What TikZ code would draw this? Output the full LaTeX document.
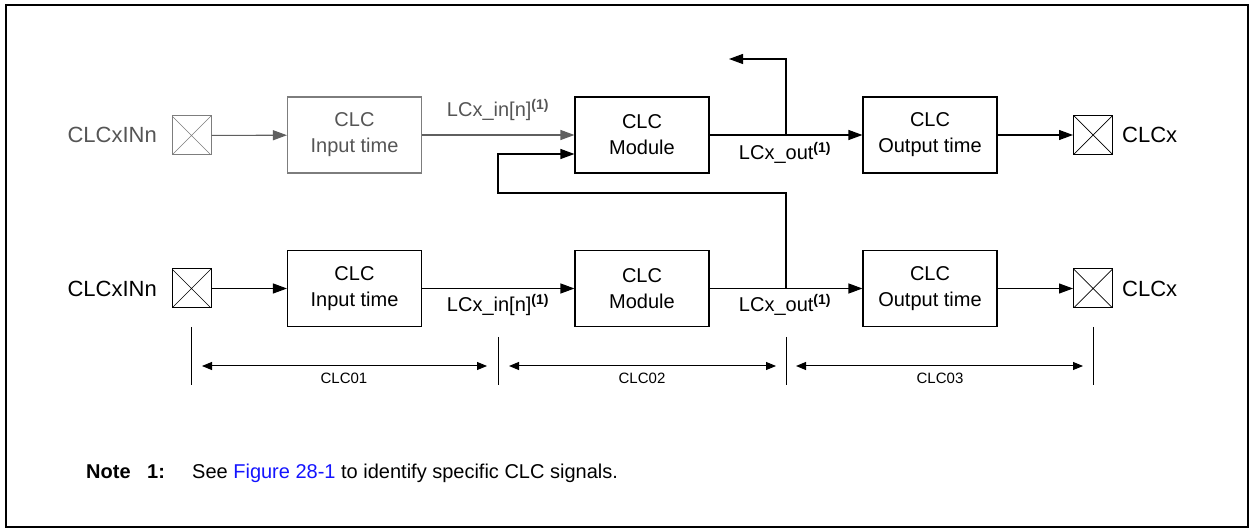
\documentclass[tikz,border=0pt]{standalone}
\usepackage{fontspec}
\setmainfont{Liberation Sans}
\usetikzlibrary{arrows.meta}
\definecolor{gtext}{RGB}{85,85,85}
\definecolor{gline}{RGB}{125,125,125}
\definecolor{garr}{RGB}{95,95,95}
\definecolor{linkblue}{RGB}{20,20,255}
\begin{document}
\begin{tikzpicture}[x=1pt,y=-1pt,
  blockbox/.style={draw=black, line width=1.1pt, minimum width=134pt, minimum height=76pt,
    inner sep=0pt, align=center, font=\fontsize{20}{26}\selectfont},
  padbox/.style={draw=black, line width=1pt, minimum width=39pt, minimum height=39pt, inner sep=0pt,
    path picture={\draw[line width=0.7pt] (path picture bounding box.north west) -- (path picture bounding box.south east)
      (path picture bounding box.north east) -- (path picture bounding box.south west);}},
  sig/.style={line width=1.1pt, -{Triangle[length=14pt,width=10pt]}},
  lab/.style={inner sep=0pt, font=\fontsize{20}{24}\selectfont},
  pinlab/.style={inner sep=0pt, font=\fontsize{22}{26}\selectfont},
  ticks/.style={line width=1pt},
  dimarr/.style={line width=1pt, {Triangle[length=10pt,width=8pt]}-{Triangle[length=10pt,width=8pt]}},
  dimlab/.style={inner sep=0pt, font=\fontsize{15}{18}\selectfont},
  notefont/.style={inner sep=0pt, font=\fontsize{20}{24}\selectfont}
]
\useasboundingbox (0,0) rectangle (1251,529);
\draw[line width=2.6pt] (6,5) rectangle (1248,527);

% ---- top row ----
\node[pinlab, text=gtext, anchor=base east] (inlab1) at (157,143) {CLCxINn};
\node[padbox, draw=gline, path picture={\draw[gline, line width=0.7pt] (path picture bounding box.north west) -- (path picture bounding box.south east)
      (path picture bounding box.north east) -- (path picture bounding box.south west);}] (padin1) at (191.5,135.5) {};
\node[blockbox, draw=gline, text=gtext] (in1) at (354.5,135) {CLC\\Input time};
\node[blockbox] (mod1) at (642,135) {CLC\\Module};
\node[blockbox] (out1) at (930,135) {CLC\\Output time};
\node[padbox] (padout1) at (1093,135) {};
\node[pinlab, anchor=base west] (outlab1) at (1122,143) {CLCx};

\draw[sig, draw=garr, fill=garr] (padin1) -- (in1);
\draw[sig, draw=garr, fill=garr] (in1) -- (mod1);
\node[lab, text=gtext, anchor=base] (sin1) at (498,117) {LCx\_in[n]\textsuperscript{\bfseries(1)}};
\draw[sig] (mod1) -- (out1);
\node[lab, anchor=base] (sout1) at (785,160) {LCx\_out\textsuperscript{\bfseries(1)}};
\draw[sig] (out1) -- (padout1);

\coordinate (br1) at (786,135);
\coordinate (upl) at (729,59);
\draw[sig] (br1) |- (upl);

% ---- bottom row ----
\node[pinlab, anchor=base east] (inlab2) at (157,297) {CLCxINn};
\node[padbox] (padin2) at (191.5,288.5) {};
\node[blockbox] (in2) at (354.5,288.5) {CLC\\Input time};
\node[blockbox] (mod2) at (642,288.5) {CLC\\Module};
\node[blockbox] (out2) at (930,288.5) {CLC\\Output time};
\node[padbox] (padout2) at (1093,288.5) {};
\node[pinlab, anchor=base west] (outlab2) at (1122,297) {CLCx};

\draw[sig] (padin2) -- (in2);
\draw[sig] (in2) -- (mod2);
\node[lab, anchor=base] (sin2) at (498,312) {LCx\_in[n]\textsuperscript{\bfseries(1)}};
\draw[sig] (mod2) -- (out2);
\node[lab, anchor=base] (sout2) at (785,312) {LCx\_out\textsuperscript{\bfseries(1)}};
\draw[sig] (out2) -- (padout2);

% feedback
\coordinate (br2) at (786,288.5);
\coordinate (fb) at (498,193);
\draw[sig] (br2) |- (fb) |- ([yshift=-19pt]mod1.west);

% ---- dimension lines ----
\draw[ticks] (191,327) -- (191,385);
\draw[ticks] (498,337) -- (498,385);
\draw[ticks] (786,337) -- (786,385);
\draw[ticks] (1093,327) -- (1093,385);
\coordinate (d1a) at (202,366); \coordinate (d1b) at (487,366);
\coordinate (d2a) at (509,366); \coordinate (d2b) at (776,366);
\coordinate (d3a) at (796,366); \coordinate (d3b) at (1083,366);
\draw[dimarr] (d1a) -- (d1b);
\draw[dimarr] (d2a) -- (d2b);
\draw[dimarr] (d3a) -- (d3b);
\node[dimlab] (c1) at (344,378) {CLC01};
\node[dimlab] (c2) at (642,378) {CLC02};
\node[dimlab] (c3) at (940,378) {CLC03};

% ---- note ----
\node[notefont, anchor=base west] (note) at (86,478) {\bfseries Note};
\node[notefont, anchor=base west] (noten) at (147,478) {\bfseries 1:};
\node[notefont, anchor=base west] (notetxt) at (192,478) {See \textcolor{linkblue}{Figure 28-1} to identify specific CLC signals.};
\end{tikzpicture}
\end{document}
